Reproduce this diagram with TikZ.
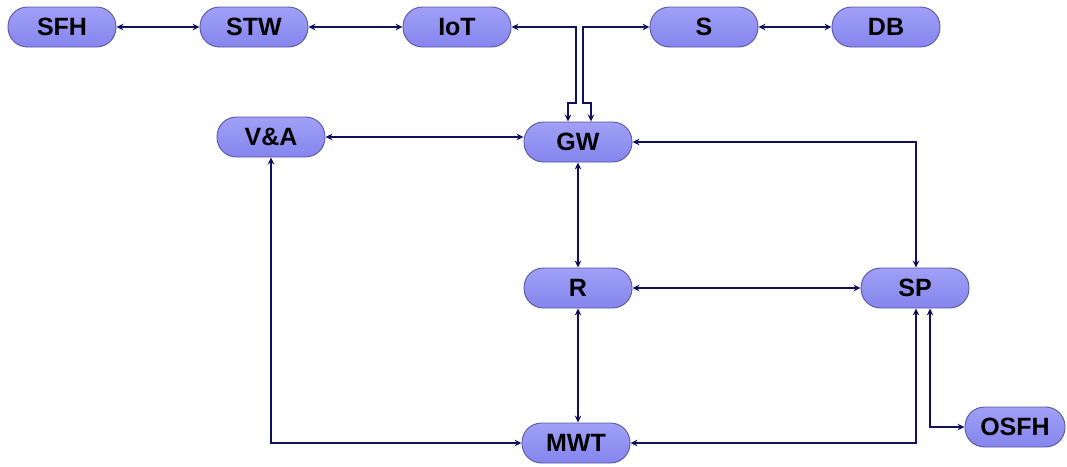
\documentclass[tikz,border=0pt]{standalone}
\usepackage{fontspec}
\setmainfont{Liberation Sans}
\usetikzlibrary{arrows.meta}
\definecolor{boxfill}{HTML}{8585EE}
\definecolor{boxtop}{HTML}{A0A0F6}
\definecolor{boxedge}{HTML}{5656A4}
\definecolor{wire}{HTML}{10105E}
\tikzset{
  block/.style={draw=boxedge, line width=0.9pt, top color=boxtop, bottom color=boxfill,
    rounded corners=19.5pt, minimum width=108pt, minimum height=40pt, inner sep=0pt,
    font=\fontsize{25}{28}\selectfont\bfseries, text=black},
  smallblock/.style={block, minimum width=100pt},
  link/.style={draw=wire, line width=2.8pt, {Stealth[length=7pt,width=6.5pt]}-{Stealth[length=7pt,width=6.5pt]}},
}
\begin{document}
\begin{tikzpicture}[x=1pt,y=-1pt]
  \useasboundingbox (0,0) rectangle (1067,466);
  % upper row
  \node[block] (SFH) at (62,27) {SFH};
  \node[block] (STW) at (254,27) {STW};
  \node[block] (IoT) at (457,27) {IoT};
  \node[block] (S) at (704,27) {S};
  \node[block] (DB) at (886,27) {DB};
  % lower blocks
  \node[block] (VA) at (271,137) {V\&A};
  \node[block] (GW) at (578,142) {GW};
  \node[block] (R) at (578,288) {R};
  \node[block] (SP) at (915,288) {SP};
  \node[block] (MWT) at (576,443) {MWT};
  \node[smallblock] (OSFH) at (1015,427) {OSFH};
  % junction points of the two feeds into GW
  \coordinate (jl) at (576,103);
  \coordinate (jr) at (583,103);
  % connectors
  \draw[link] (SFH) -- (STW);
  \draw[link] (STW) -- (IoT);
  \draw[link] (S) -- (DB);
  \draw[link] (IoT.east) -| (jl) -| ([xshift=-10pt]GW.north);
  \draw[link] (S.west) -| (jr) -| ([xshift=13pt]GW.north);
  \draw[link] (VA.east) -- (VA.east -| GW.west);
  \draw[link] (GW.east) -| ([xshift=1pt]SP.north);
  \draw[link] (GW) -- (R);
  \draw[link] (R) -- (SP);
  \draw[link] (R) -- ([xshift=2pt]MWT.north);
  \draw[link] (VA.south) |- (MWT.west);
  \draw[link] ([xshift=1pt]SP.south) |- (MWT.east);
  \draw[link] ([xshift=15pt]SP.south) |- (OSFH.west);
\end{tikzpicture}
\end{document}
